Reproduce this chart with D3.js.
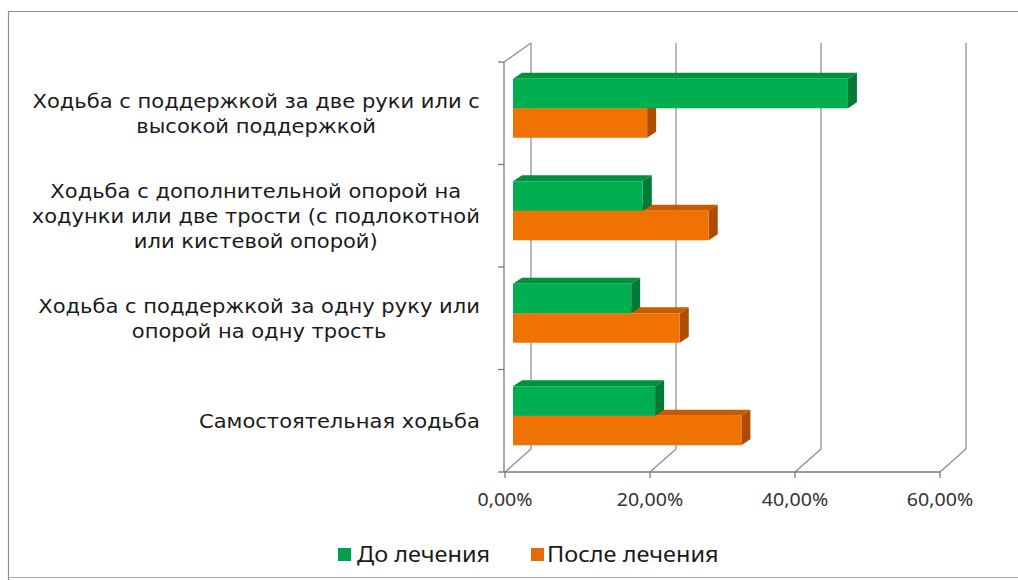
<!DOCTYPE html>
<html><head><meta charset="utf-8">
<script src="https://cdn.jsdelivr.net/npm/d3@7"></script>
<style>body{margin:0;background:#fff} svg{display:block}</style>
</head><body><svg id="c" width="1018" height="580"></svg>
<script>
const categories = ["cat1","cat2","cat3","cat4"];
const categoryLines = [
  ["Ходьба с поддержкой за две руки или с", "высокой поддержкой"],
  ["Ходьба с дополнительной опорой на", "ходунки или две трости (с подлокотной", "или кистевой опорой)"],
  ["Ходьба с поддержкой за одну руку или", "опорой на одну трость"],
  ["Самостоятельная ходьба"]
];
const seriesNames = ["До лечения", "После лечения"];
const beforeValues = [0.462, 0.179, 0.163, 0.196];
const afterValues  = [0.185, 0.270, 0.230, 0.315];
const tickValues = [0, 0.2, 0.4, 0.6];
const tickLabels = ["0,00%", "20,00%", "40,00%", "60,00%"];

const colors = {
  "До лечения":   {front:"#00B050", top:"#00913F", side:"#007A35", legend:"#00A04A"},
  "После лечения":{front:"#F07203", top:"#C85A00", side:"#B04C00", legend:"#E26B0A"}
};

const svg = d3.select("#c");
const FONT = "'Noto Sans', 'Open Sans', sans-serif";
const LABEL_FONT = "'DejaVu Sans', 'Noto Sans', sans-serif";
const SX = 1.12;       // horizontal text stretch (ticks, legend)
const SX_LABEL = 1.08; // horizontal text stretch (category labels)

// chart frame
svg.append("path").attr("d","M8.5,580 L8.5,11.5 L1018,11.5")
  .attr("fill","none").attr("stroke","#8c8c8c").attr("stroke-width",1.2);
svg.append("line").attr("x1",8.5).attr("x2",1018).attr("y1",577.5).attr("y2",577.5)
  .attr("stroke","#b0b0b0").attr("stroke-width",1);

const x = d3.scaleLinear().domain([0, 0.6]).range([505, 940]);
const y = d3.scaleBand().domain(categories).range([62, 472]);
const wall = {dx: 26, dy: -23};
const backTop = 43;
const barOff = {dx: 8, dy: -5};
const barDepth = {dx: 9, dy: -6};
const ys = d3.scaleBand().domain(seriesNames).range([-29.5, 29.5]);

const grid = svg.append("g").attr("stroke","#8a8a8a").attr("stroke-width",1.2).attr("fill","none");
tickValues.forEach(t => {
  const fx = x(t), fy = 472;
  const bx = fx + wall.dx, by = fy + wall.dy;
  grid.append("path").attr("d", `M${fx},${fy} L${bx},${by} L${bx},${backTop}`);
});
grid.append("path").attr("d", `M${x(0)-1},${62} L${x(0)+wall.dx},${backTop}`);

const ax = svg.append("g").attr("stroke","#7a7a7a").attr("stroke-width",1.3).attr("fill","none");
ax.append("line").attr("x1",x(0)-1).attr("x2",x(0)-1).attr("y1",62).attr("y2",472);
ax.append("line").attr("x1",x(0)-1).attr("x2",x(0.6)).attr("y1",472).attr("y2",472);
const catBounds = categories.map(c => y(c)).concat([472]);
catBounds.forEach(b => {
  ax.append("line").attr("x1",x(0)-7).attr("x2",x(0)-1).attr("y1",b).attr("y2",b);
});
tickValues.forEach(t => {
  ax.append("line").attr("x1",x(t)).attr("x2",x(t)).attr("y1",472).attr("y2",478);
});

// value tick labels
svg.append("g").selectAll("text").data(tickValues).join("text")
  .attr("transform", d => `translate(${x(d)},${500}) scale(${SX},1)`)
  .attr("dy","0.35em")
  .attr("text-anchor","middle")
  .attr("font-family", FONT).attr("font-size", 17.5).attr("fill","#333")
  .text((d,i) => tickLabels[i]);

// bars
const seriesData = [
  {name: "После лечения", values: afterValues},
  {name: "До лечения", values: beforeValues}
];
const barsG = svg.append("g");
categories.forEach((c, ci) => {
  const cy = y(c) + y.bandwidth()/2 + barOff.dy;
  seriesData.forEach(s => {
    const v = s.values[ci];
    const col = colors[s.name];
    const x0 = x(0) + barOff.dx, x1 = x(v) + barOff.dx;
    const y0 = cy + ys(s.name), y1 = y0 + ys.bandwidth();
    const g = barsG.append("g");
    g.append("path").attr("fill", col.top)
      .attr("d", `M${x0},${y0} L${x0+barDepth.dx},${y0+barDepth.dy} L${x1+barDepth.dx},${y0+barDepth.dy} L${x1},${y0} Z`);
    g.append("path").attr("fill", col.side)
      .attr("d", `M${x1},${y0} L${x1+barDepth.dx},${y0+barDepth.dy} L${x1+barDepth.dx},${y1+barDepth.dy} L${x1},${y1} Z`);
    g.append("rect").attr("x", x0).attr("y", y0).attr("width", x1 - x0).attr("height", y1 - y0)
      .attr("fill", col.front);
  });
});

// category labels
const labelRight = 480;
const lineH = 25;
categories.forEach((c, ci) => {
  const lines = categoryLines[ci];
  const cy = y(c) + y.bandwidth()/2;
  const g = svg.append("g");
  const texts = lines.map((l, li) => g.append("text")
    .attr("dy","0.35em")
    .attr("text-anchor","middle")
    .attr("font-family", LABEL_FONT).attr("font-size", 19.5).attr("fill","#1a1a1a")
    .text(l));
  const maxW = d3.max(texts, t => t.node().getComputedTextLength()) * SX_LABEL;
  texts.forEach((t, li) => t.attr("transform",
    `translate(${labelRight - maxW/2},${cy + (li - (lines.length-1)/2) * lineH}) scale(${SX_LABEL},1)`));
});

// legend
const legend = svg.append("g");
const legendItems = [
  {name: seriesNames[0], sx: 338, tx: 357},
  {name: seriesNames[1], sx: 531, tx: 547}
];
legendItems.forEach(it => {
  legend.append("rect").attr("x", it.sx).attr("y", 548).attr("width", 13).attr("height", 13)
    .attr("fill", colors[it.name].legend);
  legend.append("text").attr("transform", `translate(${it.tx},555) scale(${SX},1)`).attr("dy","0.35em")
    .attr("font-family", FONT).attr("font-size", 21).attr("fill","#1a1a1a")
    .text(it.name);
});
</script>
</body></html>
